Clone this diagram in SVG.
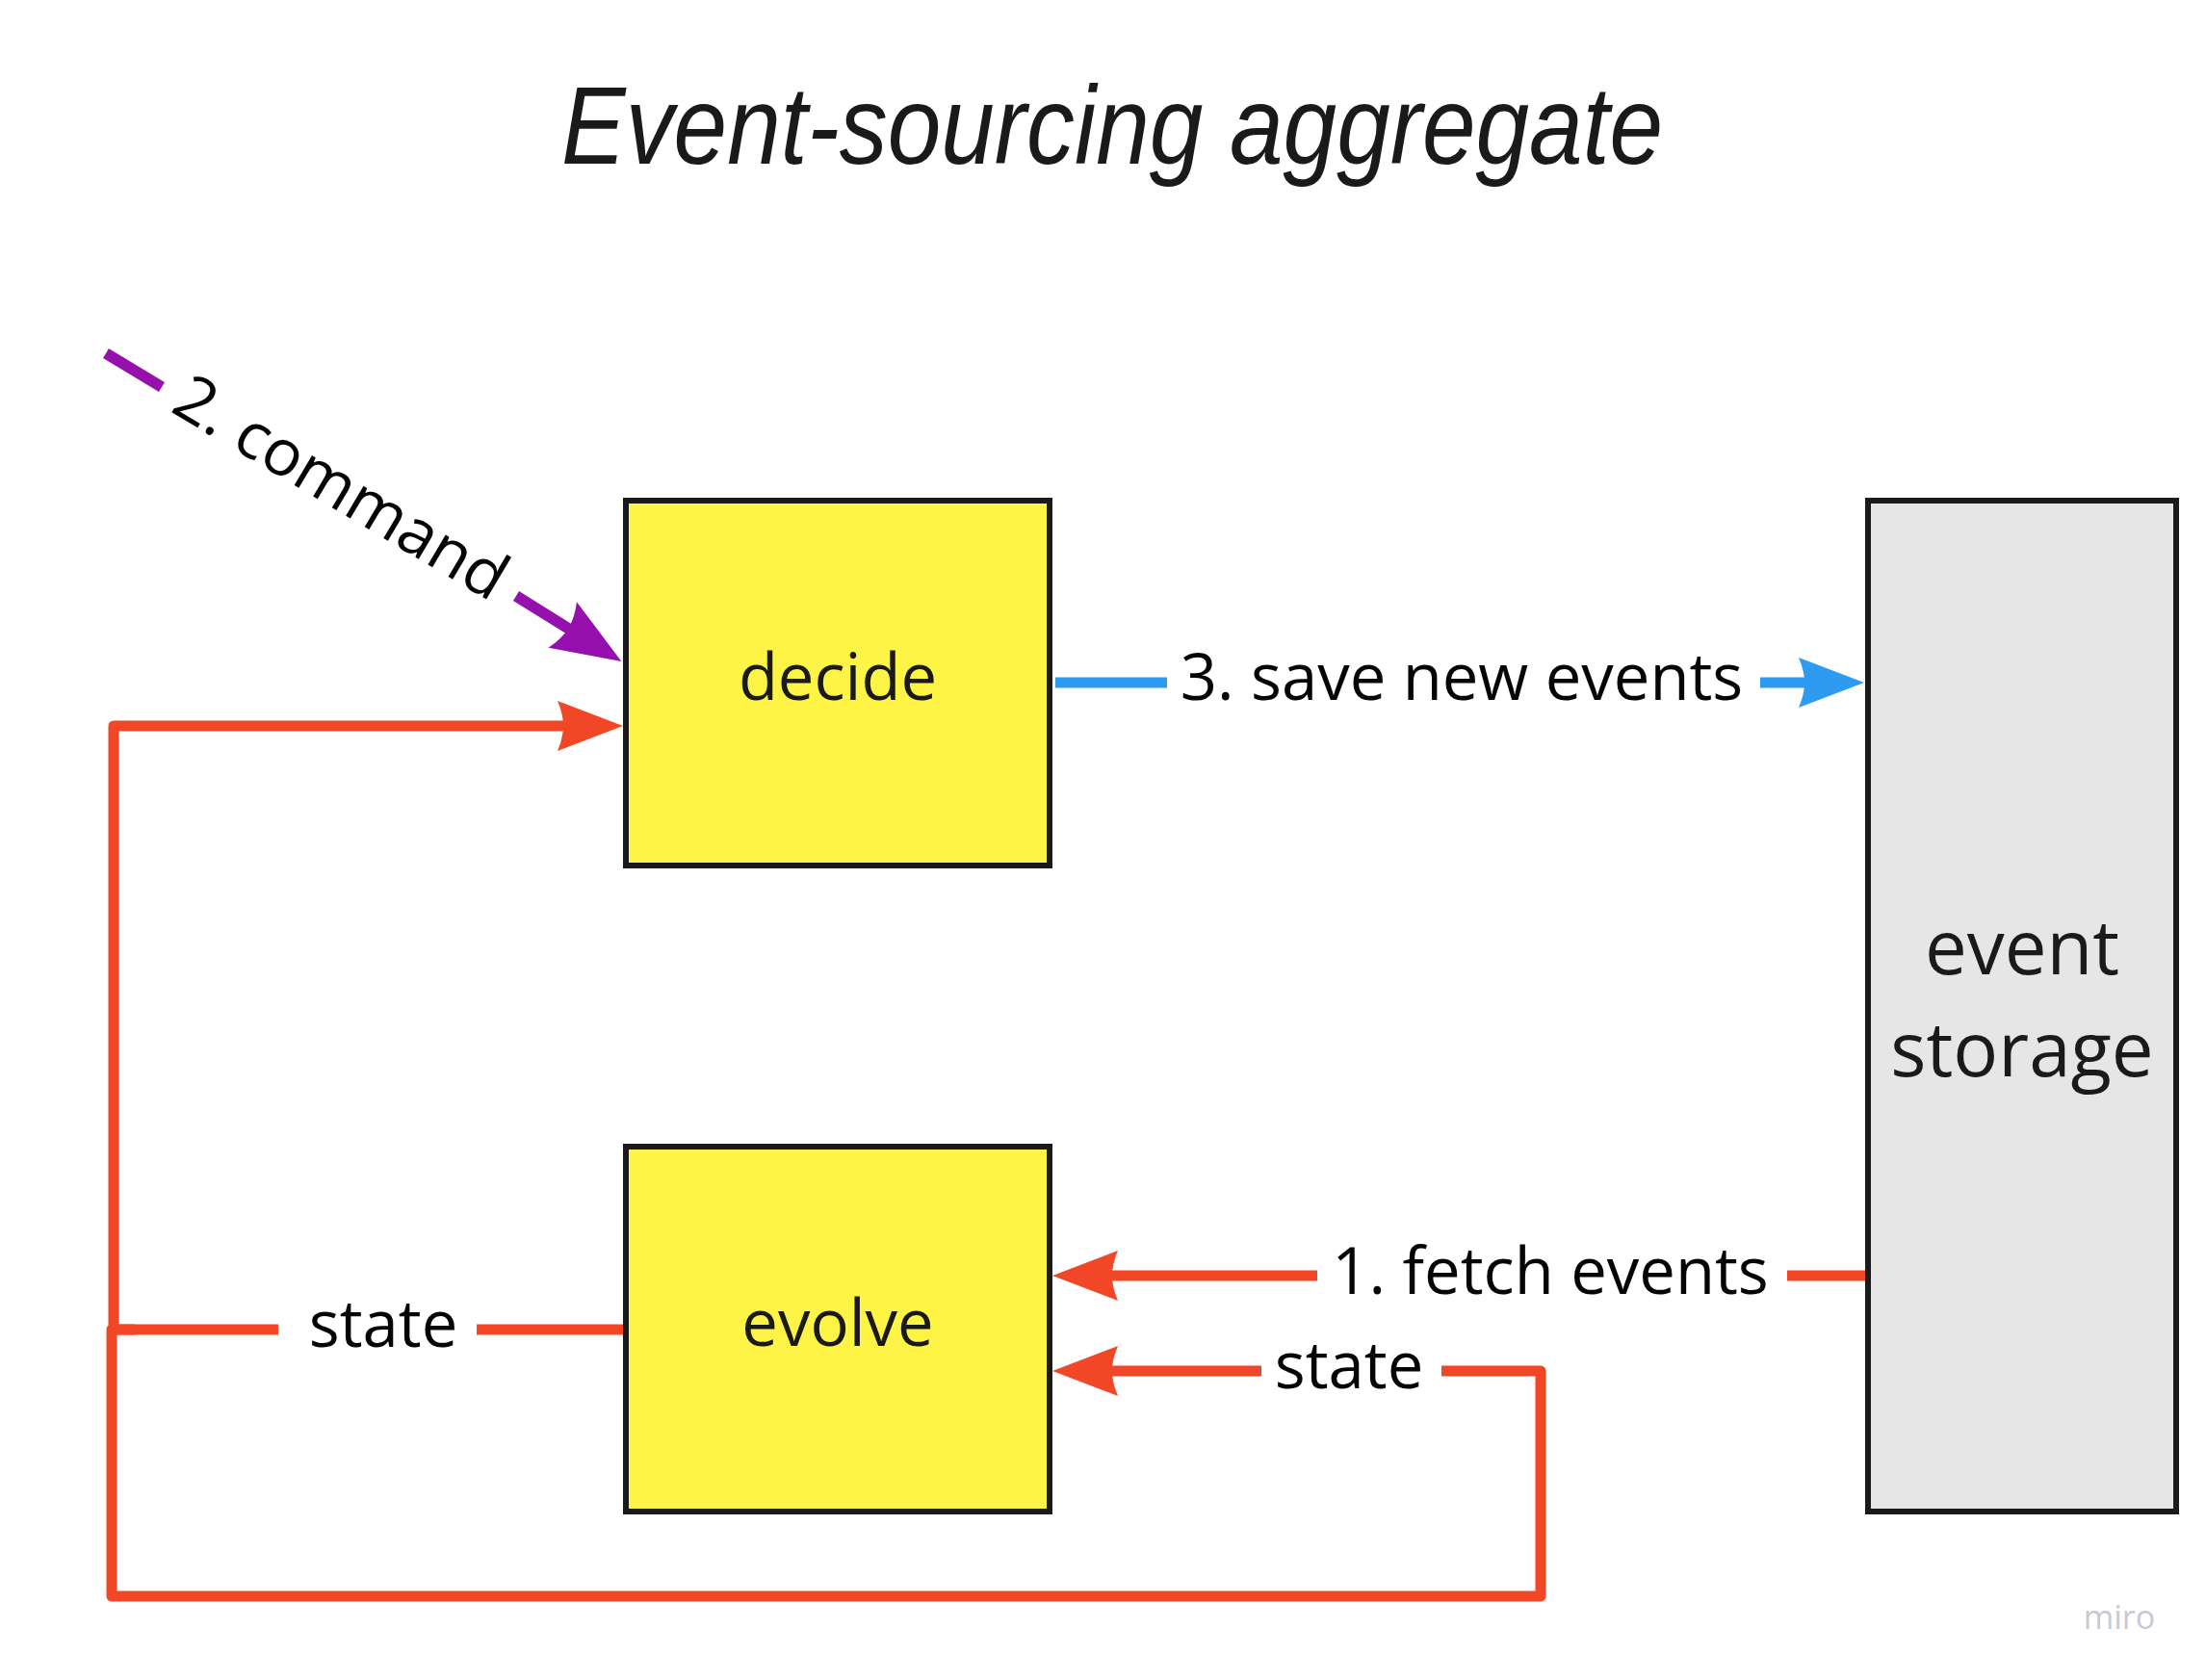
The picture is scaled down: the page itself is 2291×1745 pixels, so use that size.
<svg xmlns="http://www.w3.org/2000/svg" width="2291" height="1745" viewBox="0 0 2291 1745">
  <defs>
    <style>
      .box{stroke:#1a1a1a;stroke-width:6}
      .yellow{fill:#fef445}
      .gray{fill:#e6e6e6}
      .ntext{font-family:'Open Sans','Noto Sans','Liberation Sans',sans-serif;fill:#1a1a1a;text-anchor:middle}
      .lbl{font-family:'Open Sans','Noto Sans','Liberation Sans',sans-serif;font-size:67px;fill:#050505;text-anchor:middle}
      .line{fill:none;stroke-width:11;stroke-linejoin:round;stroke-linecap:butt}
      .red{stroke:#f24726}
      .blue{stroke:#2d9bf0}
      .purple{stroke:#9510ac;stroke-width:11.5}
    </style>
    <marker id="arrow-red" markerUnits="userSpaceOnUse" viewBox="-70 -28 72 56" markerWidth="72" markerHeight="56" refX="-58" refY="0" orient="auto">
      <path d="M0,0 L-68,-26 Q-62,-12 -62,0 Q-62,12 -68,26 Z" fill="#f24726"/>
    </marker>
    <marker id="arrow-blue" markerUnits="userSpaceOnUse" viewBox="-70 -28 72 56" markerWidth="72" markerHeight="56" refX="-58" refY="0" orient="auto">
      <path d="M0,0 L-68,-26 Q-62,-12 -62,0 Q-62,12 -68,26 Z" fill="#2d9bf0"/>
    </marker>
    <marker id="arrow-purple" markerUnits="userSpaceOnUse" viewBox="-74 -30 76 60" markerWidth="76" markerHeight="60" refX="-60" refY="0" orient="auto">
      <path d="M0,0 L-72,-28 Q-65,-13 -65,0 Q-65,13 -72,28 Z" fill="#9510ac"/>
    </marker>
  </defs>

  <rect x="0" y="0" width="2291" height="1745" fill="#ffffff"/>

  <text id="title" x="583" y="170" font-family="'Liberation Sans', Arial, sans-serif" font-style="italic" font-size="115" fill="#1a1a1a" textLength="1144" lengthAdjust="spacingAndGlyphs">Event-sourcing aggregate</text>

  <g id="connectors">
    <g id="conn-command">
      <path class="line purple" d="M110,367 L168,402"/>
      <path class="line purple" d="M536,619 L594.4,655.3" marker-end="url(#arrow-purple)"/>
      <text class="lbl" x="352" y="528.5" transform="rotate(30.76 352 510.5)">2. command</text>
    </g>
    <g id="conn-save">
      <path class="line blue" d="M1096,709 H1212"/>
      <path class="line blue" d="M1828,709 H1878" marker-end="url(#arrow-blue)"/>
      <text class="lbl" x="1518" y="727">3. save new events</text>
    </g>
    <g id="conn-fetch">
      <path class="line red" d="M1937,1325 H1856"/>
      <path class="line red" d="M1368,1325 H1151" marker-end="url(#arrow-red)"/>
      <text class="lbl" x="1610" y="1344">1. fetch events</text>
    </g>
    <g id="conn-state-decide">
      <path class="line red" d="M647,1381 H495"/>
      <path class="line red" d="M289,1381 H118 V754 H589" marker-end="url(#arrow-red)"/>
      <text class="lbl" x="398" y="1399">state</text>
    </g>
    <g id="conn-state-evolve">
      <path class="line red" d="M140,1381 H116 V1658 H1600 V1424 H1497"/>
      <path class="line red" d="M1310,1424 H1151" marker-end="url(#arrow-red)"/>
      <text class="lbl" x="1401" y="1442">state</text>
    </g>
  </g>

  <g id="node-decide">
    <rect class="box yellow" x="650" y="520" width="440" height="379"/>
    <text class="ntext" x="870" y="727" font-size="67">decide</text>
  </g>

  <g id="node-evolve">
    <rect class="box yellow" x="650" y="1191" width="440" height="379"/>
    <text class="ntext" x="870" y="1398" font-size="67">evolve</text>
  </g>

  <g id="node-event-storage">
    <rect class="box gray" x="1940" y="520" width="320" height="1050"/>
    <text class="ntext" x="2100" y="1012" font-size="78">event</text>
    <text class="ntext" x="2100" y="1118" font-size="78">storage</text>
  </g>

  <text id="watermark" x="2201" y="1692" font-family="'Open Sans','Noto Sans',sans-serif" font-size="34" fill="#c9c9d4" text-anchor="middle">miro</text>
</svg>
